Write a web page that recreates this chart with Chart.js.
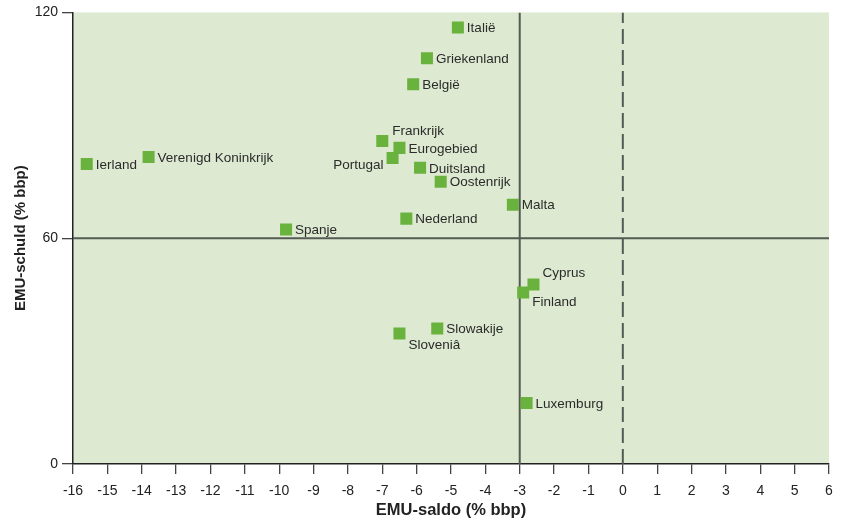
<!DOCTYPE html>
<html>
<head>
<meta charset="utf-8">
<script src="https://cdn.jsdelivr.net/npm/chart.js@4"></script>
<style>
  html, body { margin: 0; padding: 0; background: #fff; }
  #wrap { width: 844px; height: 521px; }
</style>
</head>
<body>
<div id="wrap"><canvas id="chart" width="844" height="521"></canvas></div>
<script>
// ── Data ──
const landen = ['Italië', 'Griekenland', 'België', 'Frankrijk', 'Eurogebied', 'Portugal',
                'Duitsland', 'Oostenrijk', 'Malta', 'Nederland', 'Spanje', 'Ierland',
                'Verenigd Koninkrijk', 'Cyprus', 'Finland', 'Slowakije', 'Sloveniâ', 'Luxemburg'];
const saldo  = [-4.8, -5.7, -6.1, -7.0, -6.5, -6.7, -5.9, -5.3, -3.2, -6.3, -9.8, -15.6,
                -13.8, -2.6, -2.9, -5.4, -6.5, -2.8];
const schuld = [116.0, 107.8, 100.9, 85.8, 84.0, 81.3, 78.7, 75.0, 68.9, 65.2, 62.3, 79.7,
                81.6, 47.7, 45.6, 36.0, 34.7, 16.2];

const xTicks = [-16, -15, -14, -13, -12, -11, -10, -9, -8, -7, -6, -5, -4, -3, -2, -1, 0, 1, 2, 3, 4, 5, 6];
const yTicks = [0, 60, 120];

const grensSaldo  = -3;   // verticale lijn
const grensSchuld = 60;   // horizontale lijn
const nulSaldo    = 0;    // gestippelde lijn

// ── Label placement (offsets from point centre, px) ──
const labelPos = {
    'Frankrijk':  { dx: 10, dy: -11, align: 'left' },
    'Portugal':   { dx: -9, dy: 6,   align: 'right' },
    'Cyprus':     { dx: 9,  dy: -12, align: 'left' },
    'Finland':    { dx: 9,  dy: 9,   align: 'left' },
    'Sloveniâ':   { dx: 9,  dy: 11,  align: 'left' }
};

const punten = landen.map((n, i) => ({ x: saldo[i], y: schuld[i] }));

const FONT = '"Liberation Sans", Arial, sans-serif';

// ── Plugins ──
const achtergrond = {
    id: 'achtergrond',
    beforeDraw(chart) {
        const { ctx, chartArea: a } = chart;
        ctx.save();
        ctx.fillStyle = '#ddead1';
        ctx.fillRect(a.left, a.top, a.right - a.left, a.bottom - a.top);
        ctx.restore();
    }
};

const labels = {
    id: 'labels',
    afterDatasetsDraw(chart) {
        const { ctx } = chart;
        const meta = chart.getDatasetMeta(0);
        ctx.save();
        ctx.font = '13.5px ' + FONT;
        ctx.fillStyle = '#2b2b2b';
        ctx.textBaseline = 'middle';
        meta.data.forEach((pt, i) => {
            const p = labelPos[landen[i]] || { dx: 9, dy: 0, align: 'left' };
            ctx.textAlign = p.align;
            ctx.fillText(landen[i], pt.x + p.dx, pt.y + p.dy + 1);
        });
        ctx.restore();
    }
};

const lijnKleur = '#555a55';

new Chart(document.getElementById('chart'), {
    type: 'scatter',
    data: {
        datasets: [
            {
                data: punten,
                pointStyle: 'rect',
                pointRadius: 8.5,
                pointHoverRadius: 8.5,
                backgroundColor: '#69b23d',
                borderWidth: 0,
                order: 0
            },
            {
                data: [{ x: grensSaldo, y: yTicks[0] }, { x: grensSaldo, y: yTicks[2] }],
                showLine: true, pointRadius: 0, borderColor: lijnKleur, borderWidth: 2, order: 1
            },
            {
                data: [{ x: xTicks[0], y: grensSchuld }, { x: xTicks[xTicks.length - 1], y: grensSchuld }],
                showLine: true, pointRadius: 0, borderColor: lijnKleur, borderWidth: 2, order: 1
            },
            {
                data: [{ x: nulSaldo, y: yTicks[0] }, { x: nulSaldo, y: yTicks[2] }],
                showLine: true, pointRadius: 0, borderColor: lijnKleur, borderWidth: 2,
                borderDash: [15, 6], order: 1
            }
        ]
    },
    options: {
        responsive: false,
        animation: false,
        layout: { padding: { top: 11, right: 15, left: 0, bottom: 0 } },
        plugins: { legend: { display: false }, tooltip: { enabled: false } },
        scales: {
            x: {
                type: 'linear',
                min: xTicks[0], max: xTicks[xTicks.length - 1],
                afterBuildTicks: s => { s.ticks = xTicks.map(v => ({ value: v })); },
                afterFit: s => { s.height = 57; },
                ticks: {
                    color: '#222',
                    padding: 9,
                    font: { size: 14, family: FONT }
                },
                grid: { drawOnChartArea: false, tickLength: 10, color: '#444', lineWidth: 1.3 },
                border: { color: '#222', width: 1.5 },
                title: {
                    display: true, text: 'EMU-saldo (% bbp)', color: '#222',
                    padding: { top: 2, bottom: 1 },
                    font: { size: 16.5, weight: 'bold', family: FONT }
                }
            },
            y: {
                type: 'linear',
                min: yTicks[0], max: yTicks[yTicks.length - 1],
                afterBuildTicks: s => { s.ticks = yTicks.map(v => ({ value: v })); },
                afterFit: s => { s.width = 73; },
                ticks: {
                    color: '#222',
                    padding: 4,
                    font: { size: 14, family: FONT }
                },
                grid: { drawOnChartArea: false, tickLength: 11, color: '#444', lineWidth: 1.3 },
                border: { color: '#222', width: 1.5 },
                title: {
                    display: true, text: 'EMU-schuld (% bbp)', color: '#222',
                    padding: { top: 12, bottom: 0 },
                    font: { size: 15, weight: 'bold', family: FONT }
                }
            }
        }
    },
    plugins: [achtergrond, labels]
});
</script>
</body>
</html>
